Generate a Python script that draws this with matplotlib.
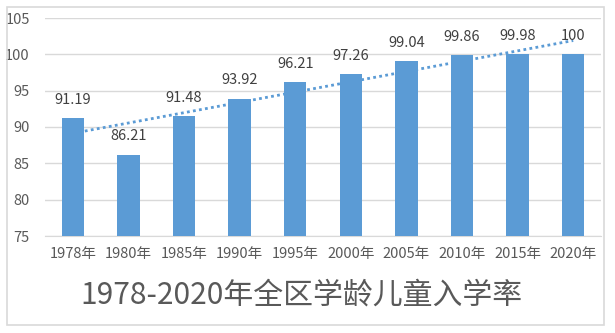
import numpy as np
import matplotlib.pyplot as plt
from matplotlib.patches import Rectangle

plt.rcParams['font.family'] = ['Noto Sans CJK SC', 'DejaVu Sans']

years = ['1978年', '1980年', '1985年', '1990年', '1995年',
         '2000年', '2005年', '2010年', '2015年', '2020年']
rates = [91.19, 86.21, 91.48, 93.92, 96.21, 97.26, 99.04, 99.86, 99.98, 100]
labels = ['91.19', '86.21', '91.48', '93.92', '96.21',
          '97.26', '99.04', '99.86', '99.98', '100']

bar_color = '#5B9BD5'
text_color = '#595959'

fig = plt.figure(figsize=(6.15, 3.33), dpi=100)
ax = fig.add_axes([45 / 615, 1 - 236 / 333, 556 / 615, 218 / 333])

x = np.arange(len(years))
ax.bar(x, rates, width=0.4, color=bar_color, zorder=3)

# linear trend line
k, b = np.polyfit(x, rates, 1)
ax.plot(x, k * x + b, linestyle=(0, (1, 1.2)), color=bar_color,
        linewidth=2, zorder=2)

for xi, v, s in zip(x, rates, labels):
    ax.annotate(s, (xi, v), xytext=(0, 13), textcoords='offset points',
                ha='center', va='center', fontsize=10.5, color='#404040',
                zorder=5)

ax.set_xlim(-0.5, len(years) - 0.5)
ax.set_ylim(75, 105)
ax.set_yticks(range(75, 106, 5))
ax.set_xticks(x)
ax.set_xticklabels(years)
ax.tick_params(axis='both', length=0, labelsize=10.5, labelcolor=text_color)
ax.tick_params(axis='x', pad=8)
ax.tick_params(axis='y', pad=11)
ax.grid(axis='y', color='#D9D9D9', linewidth=1, zorder=0)
for side in ['left', 'right', 'top']:
    ax.spines[side].set_visible(False)
ax.spines['bottom'].set_color('#D9D9D9')
ax.set_axisbelow(True)

fig.text(0.49, 1 - 295 / 333, '1978-2020年全区学龄儿童入学率',
         ha='center', va='center', fontsize=21.5, color=text_color)

fig.patches.append(Rectangle((7 / 615, 1 - 325 / 333), 597 / 615, 318 / 333,
                             transform=fig.transFigure, fill=False,
                             edgecolor='#D9D9D9', linewidth=1.2))

fig.savefig('out.png', dpi=100)
